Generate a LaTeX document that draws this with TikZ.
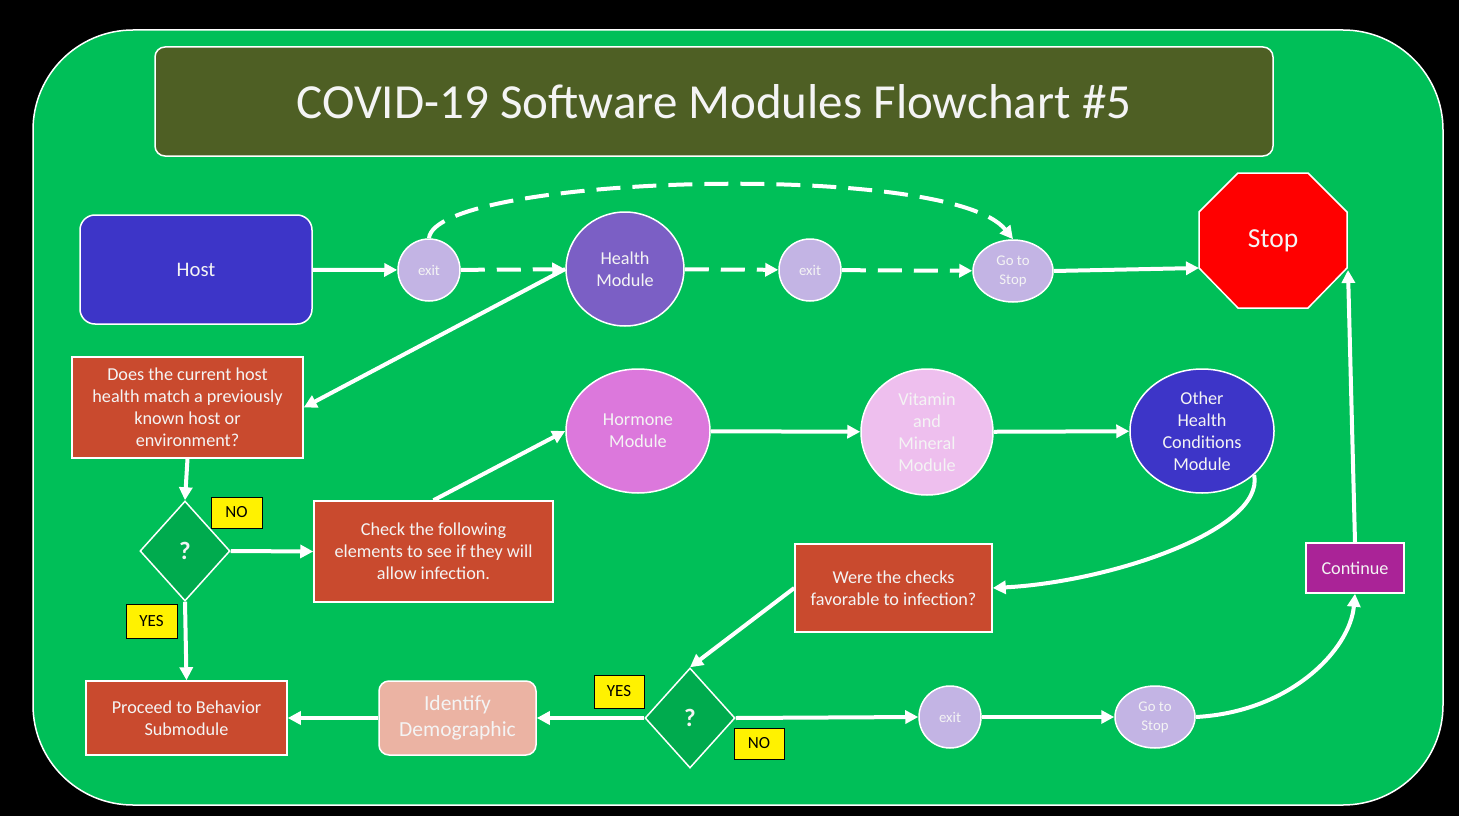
\documentclass[tikz,border=0pt]{standalone}
\usepackage{fontspec}
\setmainfont{Carlito}
\usetikzlibrary{shapes.geometric,arrows.meta}
\definecolor{bggreen}{HTML}{00BF58}
\definecolor{titleolive}{HTML}{4E5F24}
\definecolor{hostblue}{HTML}{3D35C8}
\definecolor{exitlav}{HTML}{C3B4E4}
\definecolor{healthpurple}{HTML}{7B5FC5}
\definecolor{boxred}{HTML}{C94A2E}
\definecolor{diagreen}{HTML}{00AB4E}
\definecolor{hormonepink}{HTML}{DC78DC}
\definecolor{vitpink}{HTML}{EEBFEE}
\definecolor{contpurple}{HTML}{AA2397}
\definecolor{identsalmon}{HTML}{EBB3A3}
\definecolor{txtwhite}{HTML}{F4F4F4}
\begin{document}
\begin{tikzpicture}[x=1pt,y=-1pt,
  base/.style={draw=white, line width=1.5pt, text=txtwhite, align=center, inner sep=0pt},
  box/.style={base, rectangle, fill=boxred, font=\fontsize{18.2}{22}\selectfont},
  oval/.style={base, ellipse},
  small/.style={oval, fill=exitlav, font=\fontsize{14.8}{19}\selectfont},
  dia/.style={base, diamond, fill=diagreen, minimum width=90, minimum height=100, font=\bfseries\fontsize{25}{27}\selectfont},
  tag/.style={draw=black, line width=1pt, fill=yellow, text=black, inner sep=0pt, font=\fontsize{17}{19}\selectfont},
  conn/.style={draw=white, line width=4pt, -{Triangle[length=13pt,width=13pt]}},
  dashpat/.style={dash pattern=on 24pt off 12pt},
]
\fill[black] (0,0) rectangle (1459,816);
\useasboundingbox (0,0) rectangle (1459,816);
\draw[fill=bggreen, draw=white, line width=1.5pt, rounded corners=100pt] (33,30) rectangle (1443,805);

% title
\node[base, fill=titleolive, rounded corners=10pt, minimum width=1118, minimum height=109, font=\fontsize{49}{54}\selectfont] (title) at (714,101.5) {COVID-19 Software Modules Flowchart \#5};

% top row
\node[base, fill=hostblue, rounded corners=15pt, minimum width=232, minimum height=109, font=\fontsize{20.7}{24}\selectfont] (host) at (196,269.5) {Host};
\node[small, minimum width=62, minimum height=62] (exit1) at (429,270) {exit};
\node[oval, fill=healthpurple, minimum width=118, minimum height=114, font=\fontsize{18.2}{22}\selectfont] (health) at (625,269) {Health\\Module};
\node[small, minimum width=62, minimum height=62] (exit2) at (810,270) {exit};
\node[small, minimum width=80, minimum height=62] (goto1) at (1013,271) {Go to\\Stop};
\node[minimum width=148, minimum height=135, inner sep=0pt] (stop) at (1273,240.5) {};
\draw[fill=red, draw=white, line width=1.5pt] (1238,173) -- (1308,173) -- (1347,212) -- (1347,268) -- (1308,308) -- (1238,308) -- (1199,268) -- (1199,212) -- cycle;
\node[text=txtwhite, font=\fontsize{27.5}{30}\selectfont] at (stop.center) {Stop};
\coordinate (stopL) at (1199,268);
\coordinate (stopR) at (1348,270);

% left column
\node[box, minimum width=231, minimum height=101] (q1) at (187.5,407.5) {Does the current host\\health match a previously\\known host or\\environment?};
\node[dia] (d1) at (185,551) {?};
\node[tag, minimum width=51, minimum height=31] (no1) at (236.5,512.5) {NO};
\node[tag, minimum width=51, minimum height=34] (yes1) at (151.5,621) {YES};
\node[box, minimum width=239, minimum height=101] (check) at (433.5,551.5) {Check the following\\elements to see if they will\\allow infection.};

% middle row
\node[oval, fill=hormonepink, minimum width=144, minimum height=124, font=\fontsize{18.2}{22}\selectfont] (hormone) at (638,431) {Hormone\\Module};
\node[oval, fill=vitpink, minimum width=132, minimum height=126, font=\fontsize{18.2}{22}\selectfont] (vit) at (927,432) {Vitamin\\and\\Mineral\\Module};
\node[oval, fill=hostblue, minimum width=144, minimum height=124, font=\fontsize{18.2}{22}\selectfont] (other) at (1202,431) {Other\\Health\\Conditions\\Module};

% lower area
\node[box, minimum width=197, minimum height=88] (were) at (893.5,588) {Were the checks\\favorable to infection?};
\node[box, fill=contpurple, minimum width=98, minimum height=50] (cont) at (1355,568) {Continue};
\node[box, minimum width=201, minimum height=74] (proceed) at (186.5,718) {Proceed to Behavior\\Submodule};
\node[base, fill=identsalmon, rounded corners=10pt, minimum width=157, minimum height=74, font=\fontsize{21.5}{26}\selectfont] (ident) at (457.5,718) {Identify\\Demographic};
\node[dia] (d2) at (690,718) {?};
\node[tag, minimum width=50, minimum height=33] (yes2) at (619,691.5) {YES};
\node[tag, minimum width=50, minimum height=31] (no2) at (759,743.5) {NO};
\node[small, minimum width=62, minimum height=62] (exit3) at (950,717) {exit};
\node[small, minimum width=80, minimum height=62] (goto2) at (1155,717) {Go to\\Stop};

% connectors
\draw[conn] (host) -- (exit1);
\draw[conn, dashpat] (exit1) -- (health);
\draw[conn, dashpat] (health) -- (exit2);
\draw[conn, dashpat] (exit2) -- (goto1);
\draw[conn, dashpat] (exit1.north) .. controls (435,175) and (950,160) .. (goto1.north);
\draw[conn] (goto1.east) -- (stopL);
\draw[conn] (health.west) -- (q1.east);
\draw[conn] (q1.south) -- (d1.north);
\draw[conn] (d1.east) -- (check.west);
\draw[conn] (d1.south) -- (proceed.north);
\draw[conn] (check.north) -- (hormone.west);
\draw[conn] (hormone) -- (vit);
\draw[conn] (vit) -- (other);
\draw[conn] (other.-40) .. controls (1265,530) and (1110,582) .. (were.east);
\draw[conn] (were.west) -- (d2.north);
\draw[conn] (d2.west) -- (ident.east);
\draw[conn] (ident.west) -- (proceed.east);
\draw[conn] (d2.east) -- (exit3.west);
\draw[conn] (exit3) -- (goto2);
\draw[conn] (goto2.east) .. controls (1290,712) and (1350,650) .. (cont.south);
\draw[conn] (cont.north) -- (stopR);
\end{tikzpicture}
\end{document}
